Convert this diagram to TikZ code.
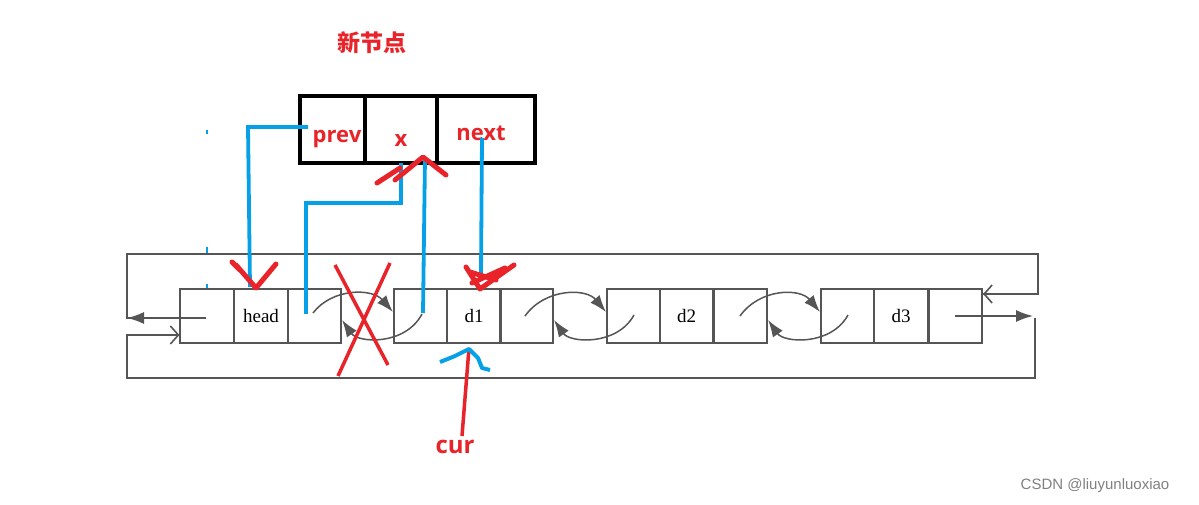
\documentclass[tikz,border=0pt]{standalone}
\usepackage{fontspec}
\setmainfont{Liberation Serif}
\newfontfamily\cjk{Noto Sans CJK SC}
\newfontfamily\lab{Open Sans}
\newfontfamily\wm{Liberation Sans}
\usetikzlibrary{arrows.meta}
\definecolor{hred}{RGB}{232,36,42}
\definecolor{hblue}{RGB}{6,160,230}
\definecolor{lgray}{RGB}{85,85,85}
\begin{document}
\begin{tikzpicture}[x=1pt,y=-1pt,
  cell/.style={draw=lgray,line width=1.6pt,minimum width=53.5pt,minimum height=54pt,inner sep=0pt,
    font=\fontsize{19}{19}\selectfont},
  bigcell/.style={draw=black,line width=4pt,minimum height=67pt,inner sep=0pt},
  redlab/.style={text=hred,font=\lab\bfseries\fontsize{22}{22}\selectfont,inner sep=0pt},
  wire/.style={draw=lgray,line width=1.6pt},
  link/.style={draw=lgray,line width=1.5pt,-{Latex[length=17pt,width=12pt]}},
  bline/.style={draw=hblue,line width=3.8pt},
  rmark/.style={draw=hred,line width=5pt,line cap=round,line join=round}]
\useasboundingbox (0,0) rectangle (1199,505);
% title
\node[text=hred,font=\cjk\bfseries\fontsize{23}{23}\selectfont] (title) at (372,43) {新节点};
% new node
\node[bigcell,minimum width=65pt] (np) at (332.5,129.5) {};
\node[bigcell,minimum width=72pt] (nx) at (401,129.5) {};
\node[bigcell,minimum width=98pt] (nn) at (486,129.5) {};
\node[redlab] (tp) at (337,139) {prev};
\node[redlab] (tx) at (401,140) {x};
\node[redlab] (tn) at (481,133) {next};
% list nodes
\node[cell] (hp) at (207,316) {};
\node[cell] (hd) at (261,316) {head};
\node[cell] (hn) at (314.5,316) {};
\node[cell] (ap) at (420.5,316) {};
\node[cell] (ad) at (474,316) {d1};
\node[cell] (an) at (526.5,316) {};
\node[cell] (bp) at (633.5,316) {};
\node[cell] (bd) at (686.5,316) {d2};
\node[cell] (bn) at (740.5,316) {};
\node[cell] (cp) at (847.5,316) {};
\node[cell] (cd) at (901,316) {d3};
\node[cell] (cn) at (955.5,316) {};
% outer loops
\coordinate (l1) at (127,318);
\coordinate (l2) at (127,254);
\coordinate (l3) at (1038,254);
\coordinate (l4) at (1038,294);
\draw[wire] (206,318) -- (l1) -- (l2) -- (l3) -- (l4) -- (cn.east |- l4);
\draw[wire,-{Latex[length=17pt,width=12pt]}] (165,318) -- (l1);
\draw[wire,-{Straight Barb[length=8pt,width=18pt]}] (1000,294) -- (cn.east |- l4);
\coordinate (m1) at (1033,316);
\coordinate (m2) at (1035,378);
\coordinate (m3) at (127,378);
\coordinate (m4) at (127,335);
\draw[wire,-{Latex[length=17pt,width=12pt]}] (955,316) -- (m1);
\draw[wire] (1035,318) -- (m2) -- (m3) -- (m4) -- (hp.west |- m4);
\draw[wire,-{Straight Barb[length=8pt,width=18pt]}] (160,335) -- (hp.west |- m4);
% links
\draw[link] (313,313) .. controls (332,288) and (372,288) .. (ap.west |- 0,312);
\draw[link] (422,314) .. controls (405,346) and (358,343) .. (hn.east |- 0,320);
\draw[link] (525,316) .. controls (545,288) and (586,288) .. (bp.west |- 0,312);
\draw[link] (634,315) .. controls (617,346) and (570,343) .. (an.east |- 0,320);
\draw[link] (740,316) .. controls (760,288) and (800,288) .. (cp.west |- 0,312);
\draw[link] (848,315) .. controls (831,346) and (784,343) .. (bn.east |- 0,320);
% blue lines
\draw[bline] (308,127) -- (248,127) -- (250,287);
\draw[bline] (306,314) -- (306,203) -- (401,203) -- (401,163);
\draw[bline] (423,313) -- (425,157);
\draw[bline] (482,138) -- (481,275);
\draw[hblue,line width=2.5pt] (207,130) -- (207,134) (207,247) -- (207,253) (207,284) -- (207,288);
% red marks
\draw[rmark] (232,262) -- (240,270) (236,265) -- (256,288) -- (276,264);
\draw[rmark] (466,267) -- (480,289) -- (514,265) (470,272) -- (496,280) (472,283) -- (505,268);
\draw[rmark] (377,183) -- (400,168) (395,180) -- (423,157) -- (446,175);
\draw[draw=hred,line width=3.5pt] (335,265) -- (388,365) (390,263) -- (338,376);
% cur
\node[text=hred,font=\lab\bfseries\fontsize{24}{24}\selectfont] (cur) at (455,447) {cur};
\draw[hred,line width=3.5pt] (462,436) -- (469,348);
\draw[hblue,line width=4pt,line join=round] (440,362) -- (455,356) -- (469,349) -- (478,358) -- (482,368) -- (490,370);
% watermark
\node[text=gray,font=\wm\fontsize{15}{15}\selectfont] (wmk) at (1095,486) {CSDN @liuyunluoxiao};
\end{tikzpicture}
\end{document}
